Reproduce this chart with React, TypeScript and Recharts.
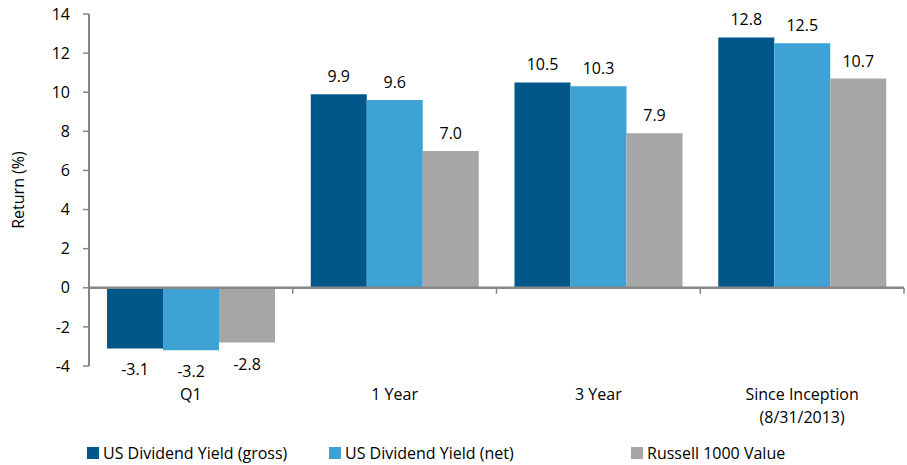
import React from 'react'
import { BarChart, Bar, XAxis, YAxis, ReferenceLine, LabelList, Label } from 'recharts'

const categories = ['Q1', '1 Year', '3 Year', 'Since Inception\n(8/31/2013)']
const grossValues = [-3.1, 9.9, 10.5, 12.8]
const netValues = [-3.2, 9.6, 10.3, 12.5]
const russellValues = [-2.8, 7.0, 7.9, 10.7]
const yTicks = [-4, -2, 0, 2, 4, 6, 8, 10, 12, 14]

const SERIES = [
  { key: 'gross', name: 'US Dividend Yield (gross)', color: '#01578A', legendLeft: 87 },
  { key: 'net', name: 'US Dividend Yield (net)', color: '#3EA3D4', legendLeft: 329 },
  { key: 'russell', name: 'Russell 1000 Value', color: '#A6A6A6', legendLeft: 631 }
]

const FONT = '"Open Sans", Lato, sans-serif'
const FONT_SIZE = 16
const AXIS_COLOR = '#868686'

const data = categories.map((name, i) => ({
  name,
  gross: grossValues[i],
  net: netValues[i],
  russell: russellValues[i]
}))

if (typeof document !== 'undefined') document.body.style.margin = '0'

const ValueLabel = (props: any) => {
  const { x, y, width, height, value } = props
  const top = Math.min(y, y + height)
  const bottom = Math.max(y, y + height)
  const cx = x + width / 2
  const neg = value < 0
  return (
    <text
      x={cx}
      y={neg ? bottom + 27 : top - 12}
      textAnchor="middle"
      fontSize={FONT_SIZE}
      fontFamily={FONT}
      fill="#000"
    >
      {Number(value).toFixed(1)}
    </text>
  )
}

const CategoryTick = (props: any) => {
  const { x, y, payload } = props
  const lines = String(payload.value).split('\n')
  return (
    <text x={x} y={y} textAnchor="middle" fontSize={FONT_SIZE} fontFamily={FONT} fill="#000">
      {lines.map((l, i) => (
        <tspan key={i} x={x} dy={i === 0 ? 26 : 23}>
          {l}
        </tspan>
      ))}
    </text>
  )
}

const ZeroAxis = (props: any) => {
  const { x1, y1, x2 } = props
  const n = categories.length
  const step = (x2 - x1) / n
  return (
    <g>
      <line x1={x1} y1={y1} x2={x2} y2={y1} stroke={AXIS_COLOR} strokeWidth={2.5} />
      {categories.map((_, i) => (
        <line
          key={i}
          x1={x1 + (i + 1) * step}
          x2={x1 + (i + 1) * step}
          y1={y1}
          y2={y1 + 6}
          stroke={AXIS_COLOR}
          strokeWidth={1.5}
        />
      ))}
    </g>
  )
}

export default function App() {
  return (
    <div style={{ position: 'relative', width: 907, height: 465, background: '#fff', fontFamily: FONT }}>
      <BarChart
        width={907}
        height={465}
        data={data}
        margin={{ top: 14, right: 3, left: 0, bottom: 0 }}
        barCategoryGap={18}
        barGap={0}
      >
        <XAxis
          dataKey="name"
          axisLine={false}
          tickLine={false}
          height={99}
          interval={0}
          tick={<CategoryTick />}
        />
        <YAxis
          width={89}
          domain={[-4, 14]}
          ticks={yTicks}
          interval={0}
          axisLine={{ stroke: AXIS_COLOR, strokeWidth: 2 }}
          tickLine={{ stroke: AXIS_COLOR, strokeWidth: 1.5 }}
          tickSize={6}
          tickMargin={13}
          tick={{ fontSize: FONT_SIZE, fontFamily: FONT, fill: '#000' }}
        >
          <Label
            value="Return (%)"
            angle={-90}
            position="insideLeft"
            offset={18}
            style={{ textAnchor: 'middle', fontSize: FONT_SIZE, fontFamily: FONT, fill: '#000' }}
          />
        </YAxis>
        {SERIES.map((s) => (
          <Bar key={s.key} dataKey={s.key} name={s.name} fill={s.color} isAnimationActive={false}>
            <LabelList dataKey={s.key} content={<ValueLabel />} />
          </Bar>
        ))}
        <ReferenceLine y={0} shape={<ZeroAxis />} />
      </BarChart>
      {SERIES.map((s) => (
        <div
          key={s.key}
          style={{
            position: 'absolute',
            top: 442,
            left: s.legendLeft,
            display: 'flex',
            alignItems: 'center',
            fontSize: FONT_SIZE,
            color: '#000',
            whiteSpace: 'nowrap'
          }}
        >
          <span style={{ width: 12, height: 12, background: s.color, display: 'inline-block', marginRight: 4 }} />
          <span>{s.name}</span>
        </div>
      ))}
    </div>
  )
}
